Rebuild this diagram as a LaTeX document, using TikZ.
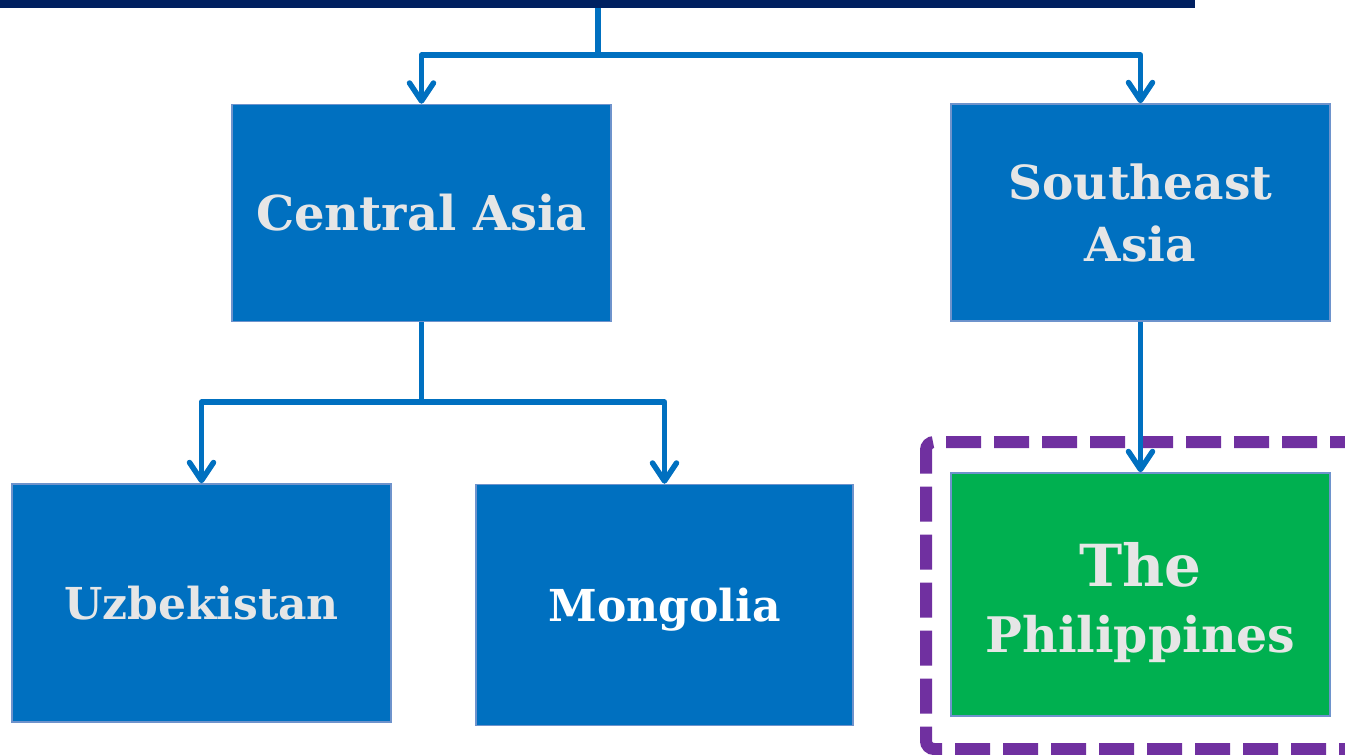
\documentclass[tikz,border=0pt]{standalone}
\usepackage{fontspec}
\setmainfont{DejaVu Serif}
\usetikzlibrary{arrows.meta}
\definecolor{boxblue}{HTML}{0070C0}
\definecolor{boxedge}{HTML}{6E93CC}
\definecolor{navy}{HTML}{002060}
\definecolor{txtgray}{HTML}{E6E6E6}
\definecolor{pgreen}{HTML}{00B050}
\definecolor{ppurple}{HTML}{7030A0}
\tikzset{
  regionbox/.style={draw=boxedge, line width=1.5pt, fill=boxblue, text=txtgray,
    align=center, inner sep=0pt, rectangle},
  greenbox/.style={regionbox, fill=pgreen},
  conn/.style={draw=boxblue, line width=5.5pt, line join=round,
    -{Straight Barb[length=18pt,width=24pt,round]}},
  plainconn/.style={draw=boxblue, line width=5.5pt, line join=round},
  focusframe/.style={draw=ppurple, line width=12pt, dash pattern=on 35pt off 13pt, rounded corners=8pt}
}
\begin{document}
\begin{tikzpicture}[x=1pt,y=-1pt]
\useasboundingbox (0,0) rectangle (1345,755);
\fill[white] (0,0) rectangle (1345,755);
% top bar
\node[fill=navy, inner sep=0pt, minimum width=1195pt, minimum height=8pt, anchor=north west] (top) at (0,0) {};
% dashed frame
\draw[focusframe] (1365,442) -- (926,442) -- (926,749) -- (1365,749);
% boxes
\node[regionbox, minimum width=379pt, minimum height=217pt,
  font=\fontsize{48}{58}\bfseries\selectfont] (ca) at (421.5,213) {Central Asia};
\node[regionbox, minimum width=379pt, minimum height=217pt,
  font=\fontsize{47}{62}\bfseries\selectfont] (sea) at (1140.5,212.5) {Southeast\\Asia};
\node[regionbox, minimum width=379pt, minimum height=238pt,
  font=\fontsize{44}{52}\bfseries\selectfont] (uz) at (201.5,603) {Uzbekistan};
\node[regionbox, minimum width=377pt, minimum height=241pt, text=white, text depth=0pt,
  font=\fontsize{44}{52}\bfseries\selectfont] (mn) at (664.5,605) {Mongolia};
\node[greenbox, minimum width=379pt, minimum height=243pt,
  font=\fontsize{49}{66}\bfseries\selectfont] (ph) at (1140.5,594.5)
  {{\fontsize{58}{66}\selectfont\rule{0pt}{61pt}The}\\Philippines};
% connectors
\coordinate (s1) at (598,55);
\coordinate (s2) at (421.5,402);
\draw[plainconn] (top.south -| s1) -- (s1);
\draw[conn] (s1) -| (ca.north);
\draw[conn] (s1) -| (sea.north);
\draw[plainconn] (ca.south) -- (s2);
\draw[conn] (s2) -| (uz.north);
\draw[conn] (s2) -| (mn.north);
\draw[conn] (sea.south) -- (ph.north);
\end{tikzpicture}
\end{document}
